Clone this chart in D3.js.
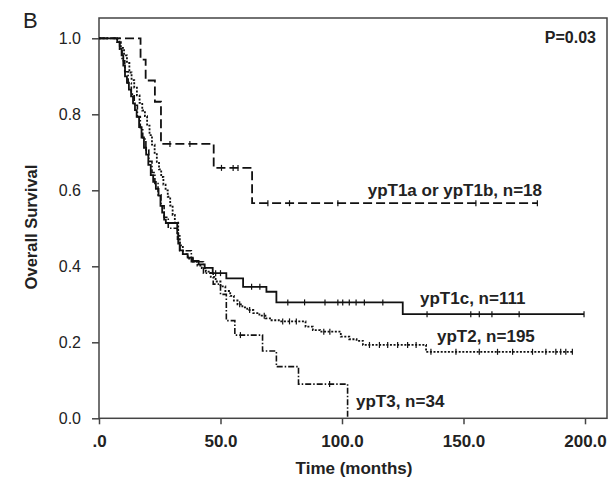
<!DOCTYPE html>
<html>
<head>
<meta charset="utf-8">
<script src="https://cdn.jsdelivr.net/npm/d3@7"></script>
<style>
  body { margin: 0; background: #fff; }
  svg { display: block; font-family: 'Liberation Sans', Arial, sans-serif; }
</style>
</head>
<body>
<svg id="chart"></svg>
<script>
// x ticks / y ticks
const xTicks = [0, 50, 100, 150, 200];
const xTickLabels = ['.0', '50.0', '100.0', '150.0', '200.0'];
const yTicks = [0, 0.2, 0.4, 0.6, 0.8, 1.0];
const yTickLabels = ['0.0', '0.2', '0.4', '0.6', '0.8', '1.0'];

// each step: [time the curve drops, survival after the drop]
const ypT1abSteps = [[0, 1], [17.1, 0.944], [19.2, 0.889], [23, 0.833], [25.5, 0.722], [47.2, 0.659], [63, 0.566]];
const ypT1abEnd = 180.4;
const ypT1abCensor = [29.2, 37.4, 50.4, 55.2, 57.2, 69.5, 78.4, 98.3, 155.1, 180.4];

const ypT1cSteps = [[0, 1], [7.5, 0.99], [8.5, 0.973], [9.3, 0.955], [10, 0.928], [10.7, 0.9], [11.5, 0.883],
  [12.3, 0.865], [13.2, 0.847], [14, 0.829], [14.8, 0.811], [15.5, 0.793], [16.5, 0.766], [17.5, 0.739],
  [18.5, 0.712], [19.4, 0.694], [20.3, 0.667], [21.3, 0.64], [22.3, 0.622], [23.4, 0.604], [24.5, 0.586],
  [25.3, 0.559], [26, 0.541], [26.8, 0.523], [27.5, 0.514], [32.2, 0.487], [32.6, 0.46], [33.2, 0.442],
  [34.5, 0.432], [36.5, 0.423], [38.6, 0.414], [41, 0.405], [43.5, 0.396], [46.8, 0.382], [52.4, 0.368],
  [59.3, 0.346], [68.9, 0.333], [73, 0.305], [125, 0.274]];
const ypT1cEnd = 199.6;
const ypT1cCensor = [48, 50, 62.8, 66.2, 77.7, 84.6, 93, 98.3, 100.3, 103, 105.8, 109.2, 116.8,
  135, 153, 156.5, 161.7, 172.9, 199.6];

const ypT2Steps = [[0, 1], [7.5, 0.99], [9, 0.975], [10.3, 0.955], [11.5, 0.935], [12.5, 0.91], [13.4, 0.89],
  [14.5, 0.87], [15.6, 0.85], [16.7, 0.83], [17.8, 0.81], [18.9, 0.795], [19.8, 0.77], [20.8, 0.745],
  [21.8, 0.72], [22.9, 0.695], [23.8, 0.675], [24.7, 0.655], [25.6, 0.635], [26.5, 0.615], [27.4, 0.6],
  [28.3, 0.583], [29.3, 0.56], [30.3, 0.535], [31.2, 0.515], [32.6, 0.48], [33.2, 0.455], [34.5, 0.432],
  [36.5, 0.42], [38.6, 0.412], [40.5, 0.402], [42.3, 0.395], [44, 0.386], [46, 0.372], [48, 0.36],
  [50, 0.347], [52, 0.335], [54, 0.322], [55.5, 0.31], [57, 0.3], [59, 0.292], [61, 0.285], [63.5, 0.277],
  [66, 0.27], [68.5, 0.263], [71, 0.258], [74, 0.255], [85, 0.241], [88, 0.232], [91, 0.228],
  [99.5, 0.215], [103, 0.208], [106, 0.204], [108.6, 0.193], [134.6, 0.175]];
const ypT2End = 194.8;
const ypT2Censor = [57.9, 62, 68, 75.6, 78.4, 81.2, 92.5, 95, 111.3, 115.4, 118.8, 122.9, 127, 130.5,
  136.6, 146.9, 156.5, 164, 170.2, 178.4, 183.9, 188, 190, 192.1, 194.8];

const ypT3Steps = [[0, 1], [8.5, 0.971], [9.5, 0.941], [10.6, 0.912], [12, 0.882], [13.3, 0.853], [14.5, 0.824],
  [15.8, 0.794], [17, 0.765], [18, 0.735], [19.3, 0.706], [20.5, 0.676], [21.8, 0.647], [23, 0.618],
  [24.3, 0.588], [25.5, 0.559], [26.8, 0.529], [28.5, 0.5], [32.3, 0.471], [33.3, 0.441], [38, 0.412],
  [43, 0.382], [47, 0.353], [50, 0.326], [52.4, 0.257], [55.9, 0.219], [67.3, 0.177], [73, 0.136],
  [82.1, 0.09], [102.3, 0]];
const ypT3End = 102.3;
const ypT3Censor = [58.2, 94.9];

const margin = { left: 99, top: 18, right: 2, bottom: 62 };
const width = 609;
const height = 480;

const svg = d3.select('#chart')
  .attr('width', width)
  .attr('height', height);

const xScale = d3.scaleLinear().domain([0, 200]).range([99, 585]);
const yScale = d3.scaleLinear().domain([0, 1]).range([418.3, 38.3]);
const axisColor = '#444';

// frame
svg.append('rect')
  .attr('x', margin.left)
  .attr('y', margin.top)
  .attr('width', 607 - margin.left)
  .attr('height', yScale(0) - margin.top)
  .attr('fill', 'none')
  .attr('stroke', axisColor)
  .attr('stroke-width', 1.5);

const xAxis = d3.axisBottom(xScale)
  .tickValues(xTicks)
  .tickSize(6)
  .tickSizeOuter(0)
  .tickFormat((d, i) => xTickLabels[i]);

const yAxis = d3.axisLeft(yScale)
  .tickValues(yTicks)
  .tickSize(7)
  .tickSizeOuter(0)
  .tickFormat((d, i) => yTickLabels[i]);

const gx = svg.append('g')
  .attr('transform', `translate(0,${yScale(0)})`)
  .call(xAxis);
gx.select('.domain').remove();
gx.selectAll('line').attr('stroke', axisColor).attr('stroke-width', 1.5);
gx.selectAll('text')
  .attr('y', 29)
  .attr('dy', 0)
  .attr('fill', '#222')
  .attr('font-size', 17)
  .attr('font-weight', 'bold')
  .attr('font-family', "'Liberation Sans', Arial, sans-serif");

const gy = svg.append('g')
  .attr('transform', `translate(${margin.left},0)`)
  .call(yAxis);
gy.select('.domain').remove();
gy.selectAll('line').attr('stroke', axisColor).attr('stroke-width', 1.5);
gy.selectAll('text')
  .attr('x', -18)
  .attr('fill', '#222')
  .attr('font-size', 16)
  .attr('font-family', "'Liberation Sans', Arial, sans-serif");

// survival curves
const stepLine = d3.line()
  .x(d => xScale(d[0]))
  .y(d => yScale(d[1]))
  .curve(d3.curveStepAfter);

const survAt = (steps, t) => {
  let s = steps[0][1];
  steps.forEach(d => { if (d[0] <= t) s = d[1]; });
  return s;
};

const curves = [
  { steps: ypT1abSteps, end: ypT1abEnd, censor: ypT1abCensor, dash: '9,4', width: 1.8 },
  { steps: ypT2Steps, end: ypT2End, censor: ypT2Censor, dash: '2,1.6', width: 1.8 },
  { steps: ypT3Steps, end: ypT3End, censor: ypT3Censor, dash: '6,2,1.5,2', width: 1.6 },
  { steps: ypT1cSteps, end: ypT1cEnd, censor: ypT1cCensor, dash: null, width: 1.8 }
];

curves.forEach(c => {
  const last = c.steps[c.steps.length - 1];
  const pts = c.steps.concat([[c.end, last[1]]]);
  svg.append('path')
    .datum(pts)
    .attr('fill', 'none')
    .attr('stroke', '#111')
    .attr('stroke-width', c.width)
    .attr('stroke-dasharray', c.dash)
    .attr('d', stepLine);

  svg.append('g')
    .selectAll('line')
    .data(c.censor)
    .enter()
    .append('line')
    .attr('x1', d => xScale(d))
    .attr('x2', d => xScale(d))
    .attr('y1', d => yScale(survAt(c.steps, d)) - 3)
    .attr('y2', d => yScale(survAt(c.steps, d)) + 3)
    .attr('stroke', '#111')
    .attr('stroke-width', 1.2);
});

// curve labels
const labels = [
  { text: 'ypT1a or ypT1b, n=18', x: 542, y: 196, anchor: 'end' },
  { text: 'ypT1c, n=111', x: 420, y: 304, anchor: 'start' },
  { text: 'ypT2, n=195', x: 437, y: 342, anchor: 'start' },
  { text: 'ypT3, n=34', x: 356, y: 407, anchor: 'start' }
];
svg.selectAll('.lbl')
  .data(labels)
  .enter()
  .append('text')
  .attr('class', 'lbl')
  .attr('x', d => d.x)
  .attr('y', d => d.y)
  .attr('text-anchor', d => d.anchor)
  .attr('font-size', 17)
  .attr('font-weight', 'bold')
  .attr('fill', '#222')
  .text(d => d.text);

svg.append('text')
  .attr('x', 596)
  .attr('y', 43)
  .attr('text-anchor', 'end')
  .attr('font-size', 16)
  .attr('font-weight', 'bold')
  .attr('fill', '#222')
  .text('P=0.03');

svg.append('text')
  .attr('x', 23)
  .attr('y', 28)
  .attr('font-size', 22)
  .attr('fill', '#222')
  .text('B');

svg.append('text')
  .attr('x', 354)
  .attr('y', 474)
  .attr('text-anchor', 'middle')
  .attr('font-size', 17)
  .attr('font-weight', 'bold')
  .attr('fill', '#222')
  .text('Time (months)');

svg.append('text')
  .attr('transform', 'translate(37,227) rotate(-90)')
  .attr('text-anchor', 'middle')
  .attr('font-size', 16.5)
  .attr('font-weight', 'bold')
  .attr('fill', '#222')
  .text('Overall Survival');
</script>
</body>
</html>
